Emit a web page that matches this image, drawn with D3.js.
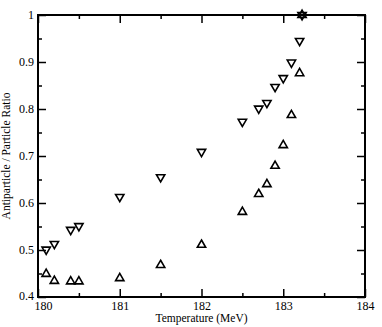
<!DOCTYPE html>
<html><head><meta charset="utf-8">
<script src="https://cdn.jsdelivr.net/npm/d3@7"></script>
<style>body{margin:0;background:#fff}svg{display:block}</style>
</head><body>
<script>
const temperature = [180.1,180.2,180.4,180.5,181,181.5,182,182.5,182.7,182.8,182.9,183,183.1,183.2,183.23];
const downRatio = [0.501,0.513,0.543,0.551,0.613,0.655,0.709,0.773,0.801,0.813,0.847,0.866,0.899,0.945,1.0];
const upRatio = [0.449,0.434,0.433,0.433,0.440,0.468,0.511,0.581,0.619,0.640,0.679,0.723,0.787,0.876,1.0];
const xTicks = [180,181,182,183,184];
const yTicks = [0.4,0.5,0.6,0.7,0.8,0.9,1];

const W=382,H=327, m={l:38,t:15,r:17,b:30};
const svg=d3.select("body").append("svg").attr("width",W).attr("height",H);
const x=d3.scaleLinear().domain([180,184]).range([m.l,W-m.r]);
const y=d3.scaleLinear().domain([0.4,1]).range([H-m.b,m.t]);
const font="'Liberation Serif','Times New Roman',serif";

const xMinor=d3.range(180.5,184,1);
const yMinor=d3.range(0.45,1,0.1);

// bottom
const gb=svg.append("g").attr("transform",`translate(0,${y(0.4)})`)
 .call(d3.axisBottom(x).tickValues(xTicks).tickFormat(d3.format("d")).tickSizeInner(-8).tickSizeOuter(0).tickPadding(4));
gb.append("g").call(d3.axisBottom(x).tickValues(xMinor).tickSizeInner(-4).tickSizeOuter(0).tickFormat(""));
// top
const gt=svg.append("g").attr("transform",`translate(0,${y(1)})`)
 .call(d3.axisTop(x).tickValues(xTicks).tickFormat("").tickSizeInner(-8).tickSizeOuter(0));
gt.append("g").call(d3.axisTop(x).tickValues(xMinor).tickSizeInner(-4).tickSizeOuter(0).tickFormat(""));
// left
const gl=svg.append("g").attr("transform",`translate(${x(180)},0)`)
 .call(d3.axisLeft(y).tickValues(yTicks).tickFormat(d=>d===1?"1":d3.format(".1f")(d)).tickSizeInner(-8).tickSizeOuter(0).tickPadding(4));
gl.append("g").call(d3.axisLeft(y).tickValues(yMinor).tickSizeInner(-4).tickSizeOuter(0).tickFormat(""));
// right
const gr=svg.append("g").attr("transform",`translate(${x(184)},0)`)
 .call(d3.axisRight(y).tickValues(yTicks).tickFormat("").tickSizeInner(-8).tickSizeOuter(0));
gr.append("g").call(d3.axisRight(y).tickValues(yMinor).tickSizeInner(-4).tickSizeOuter(0).tickFormat(""));

svg.selectAll(".domain").remove();
svg.selectAll(".tick line").attr("stroke","#000").attr("stroke-width",1.5);
svg.selectAll(".tick text").attr("font-family",font).attr("font-size",12).attr("fill","#000");
gb.selectAll(".tick text").filter(d=>d===180).attr("dx",5);
gl.selectAll(".tick text").filter(d=>d===0.4).attr("dy","0.2em");

svg.append("rect").attr("x",x(180)).attr("y",y(1)).attr("width",x(184)-x(180)).attr("height",y(0.4)-y(1))
 .attr("fill","none").attr("stroke","#000").attr("stroke-width",2);

const tri=d3.symbol().type(d3.symbolTriangle).size(30);
const pts=svg.append("g");
pts.selectAll(".dn").data(temperature.map((t,i)=>[t,downRatio[i]])).join("path")
 .attr("d",tri).attr("transform",d=>`translate(${x(d[0])},${y(d[1])}) rotate(180)`)
 .attr("fill","none").attr("stroke","#000").attr("stroke-width",1.6);
pts.selectAll(".up").data(temperature.map((t,i)=>[t,upRatio[i]])).join("path")
 .attr("d",tri).attr("transform",d=>`translate(${x(d[0])},${y(d[1])})`)
 .attr("fill","none").attr("stroke","#000").attr("stroke-width",1.6);

svg.append("text").attr("x",(x(180)+x(184))/2).attr("y",322).attr("text-anchor","middle")
 .attr("font-family",font).attr("font-size",11.5).text("Temperature (MeV)");
svg.append("text").attr("transform",`translate(10,${y(0.7)}) rotate(-90)`).attr("text-anchor","middle")
 .attr("font-family",font).attr("font-size",11.5).text("Antiparticle / Particle Ratio");
</script>
</body></html>
